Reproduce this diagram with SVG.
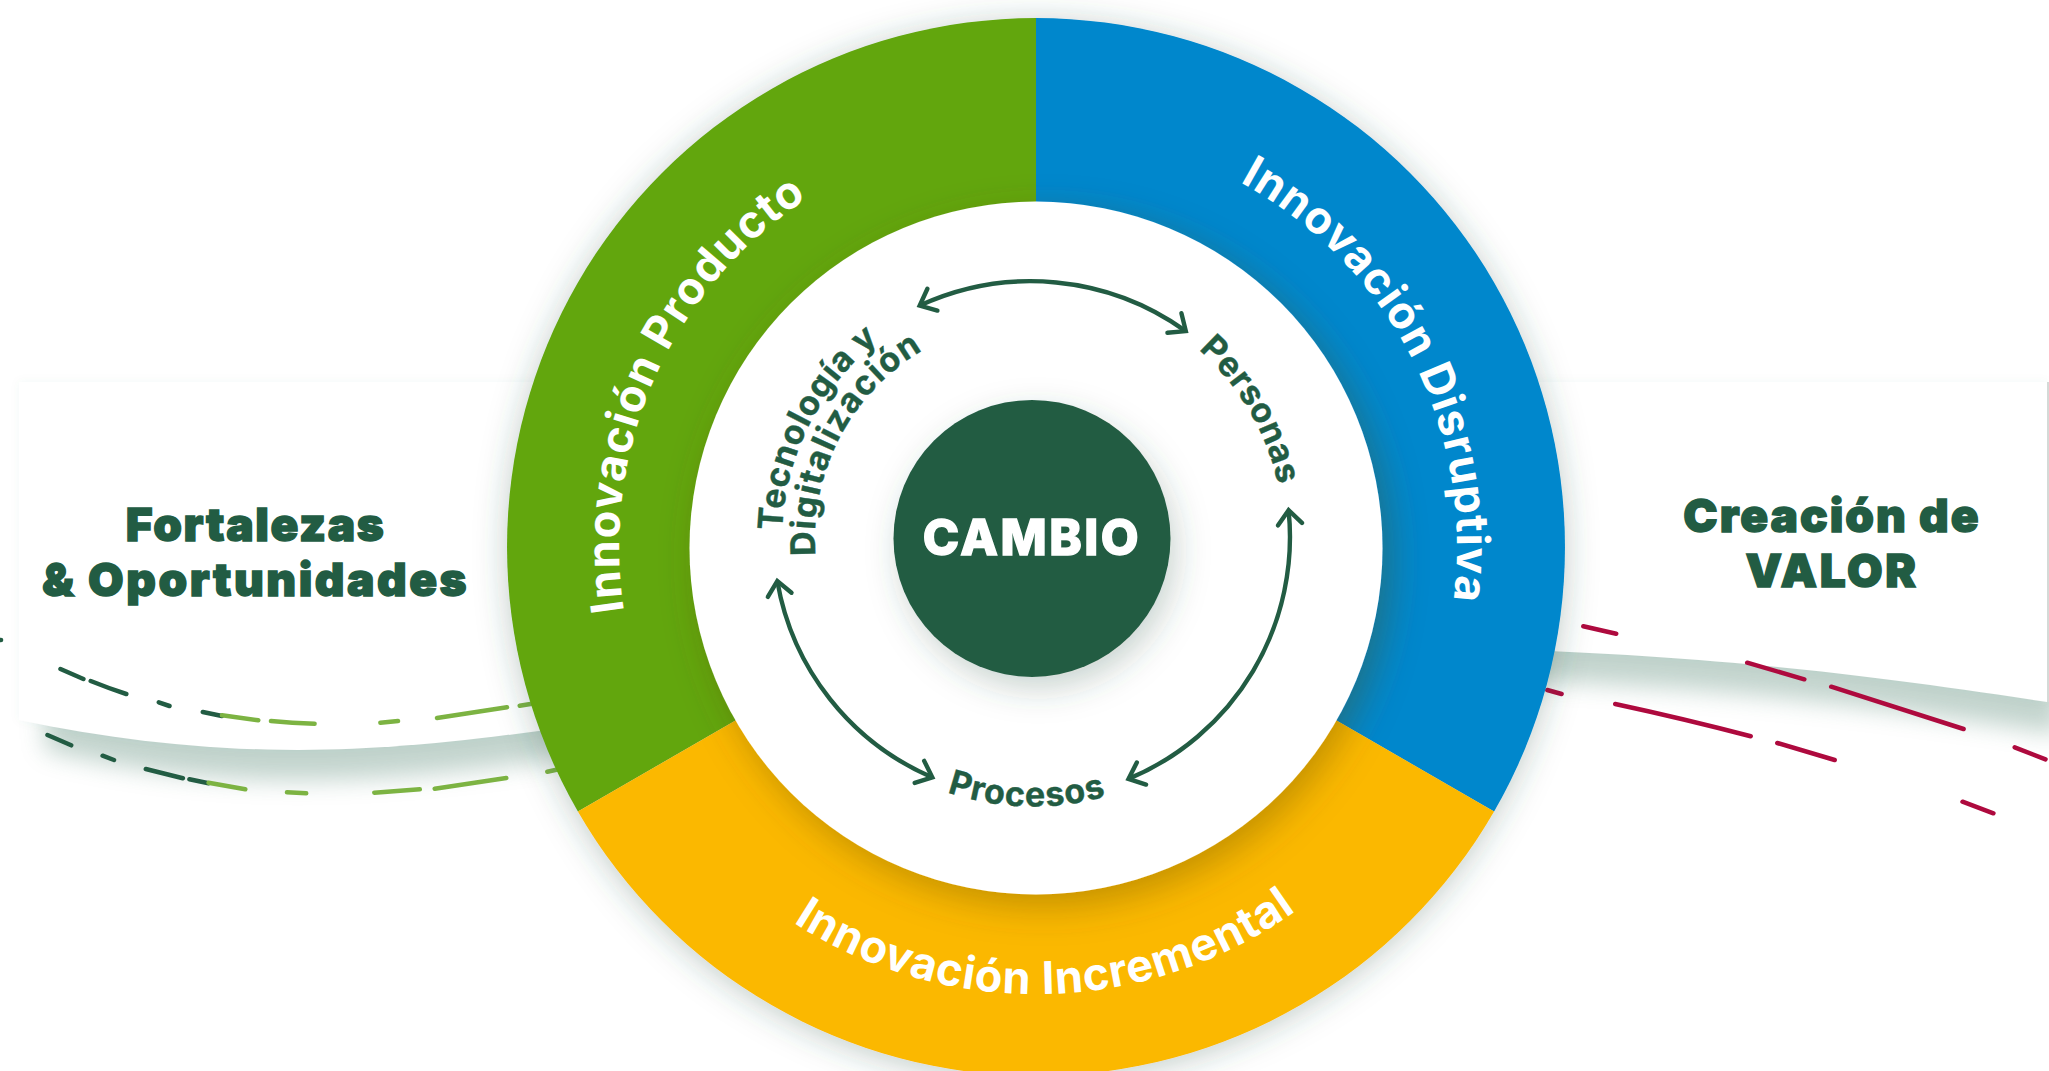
<svg xmlns="http://www.w3.org/2000/svg" width="2049" height="1071" viewBox="0 0 2049 1071">
<style>
text{font-family:"Inter","Liberation Sans",sans-serif;}
.head{font-size:46px;font-weight:900;fill:#225c43;stroke:#225c43;stroke-width:1.4px;text-anchor:middle}
.ring{font-size:45px;font-weight:700;fill:#fff;text-anchor:middle;letter-spacing:1.3px}
.inner{font-size:34px;font-weight:700;fill:#225c43;stroke:#225c43;stroke-width:.4px;text-anchor:middle}
.core{font-size:49px;font-weight:800;fill:#fff;stroke:#fff;stroke-width:1.4px;text-anchor:middle;letter-spacing:2.5px}
.dd{fill:none;stroke:#225c43;stroke-width:4.5;stroke-linecap:round}
.dg{fill:none;stroke:#7cb342;stroke-width:4.5;stroke-linecap:round}
.dr{fill:none;stroke:#ae0a3e;stroke-width:4.5;stroke-linecap:round}
.arc{fill:none;stroke:#225c43;stroke-width:4.4;marker-start:url(#v);marker-end:url(#v)}
.pshadow{fill:#5f8d7b;opacity:.38;filter:url(#blur)}
</style>
<defs>
<marker id="v" markerUnits="userSpaceOnUse" markerWidth="44" markerHeight="44" viewBox="-22 -22 44 44" refX="0" refY="0" orient="auto-start-reverse">
<path d="M-14,-12 L0,0 L-14,12" fill="none" stroke="#225c43" stroke-width="4.4" stroke-linecap="round"/>
</marker>
<filter id="blur" x="-10%" y="-40%" width="120%" height="180%"><feGaussianBlur stdDeviation="12"/></filter>
<filter id="halo" x="-5%" y="-5%" width="110%" height="110%"><feDropShadow dx="0" dy="0" stdDeviation="5" flood-color="#4a7a66" flood-opacity=".05"/></filter>
<filter id="ringS" x="-10%" y="-10%" width="120%" height="120%"><feDropShadow dx="0" dy="4" stdDeviation="16" flood-color="#33554a" flood-opacity=".3"/></filter>
<filter id="innerS" x="-15%" y="-15%" width="130%" height="130%"><feDropShadow dx="8" dy="12" stdDeviation="18" flood-color="#5a4a10" flood-opacity=".35"/></filter>
<filter id="coreS" x="-30%" y="-30%" width="160%" height="160%"><feDropShadow dx="6" dy="12" stdDeviation="16" flood-color="#33554a" flood-opacity=".25"/></filter>
<path id="tProd" d="M698.7,792 A417,417 0 0 1 992.4,132.3"/>
<path id="tDis" d="M1063.7,132.6 A415,415 0 0 1 1390.1,773"/>
<path id="tInc" d="M654.4,779.9 A447,447 0 0 0 1428.5,761"/>
<path id="tPer" d="M1030.8,287.5 A251,251 0 0 1 1251.5,662.1"/>
<path id="tPro" d="M797.8,667 A268,268 0 0 0 1261.9,677.9"/>
<path id="tTec" d="M822.5,675.2 A251,251 0 0 1 1019.9,287.9"/>
<path id="tDig" d="M848.7,655 A218,218 0 0 1 1024.3,320.7"/>
</defs>

<g id="panel-left">
<path class="pshadow" d="M45,690 H560 V758 C460,772 380,780 298,780 C200,780 120,768 45,750 Z"/>
<path d="M19,382 H560 V728 C460,742 380,750 298,750 C200,750 110,739 19,720 Z" fill="#fff" filter="url(#halo)"/>
<text class="head" x="255.5" y="541" style="letter-spacing:1.6px">Fortalezas</text>
<text class="head" x="255.5" y="595.7" style="letter-spacing:2.5px">&amp; Oportunidades</text>
</g>
<g id="panel-right">
<path class="pshadow" d="M1500,600 H2060 V734 C1900,710 1750,688 1500,679 Z"/>
<path d="M1500,382 H2047 V702 C1900,680 1750,658 1500,649 Z" fill="#fff" filter="url(#halo)"/>
<rect x="2047" y="382" width="2" height="320" fill="#d4dad7"/>
<text class="head" x="1832" y="531.7" style="letter-spacing:2px">Creación de</text>
<text class="head" x="1832" y="586.7" style="letter-spacing:2.6px">VALOR</text>
</g>

<g id="dashes">
<circle cx="1" cy="640" r="2.3" fill="#225c43"/>
<path class="dd" d="M60.5,669 L83.4,679 M90.7,681 Q108,688 126.3,694 M158.8,702.3 L169.5,706 M202.8,712 L222,716 M47.5,735 L71.2,745.3 M102.6,755.7 L114,760 M145.8,769 L182.9,778.3 M189.4,779.3 L208.6,783.3"/>
<path class="dg" d="M222,715.3 L258.3,720.3 M271,721 Q292,723 314.6,723.7 M380.4,722.7 L398,721 M437,718 L507,707.3 M519.7,705.7 L532,703.7 M208.6,782.7 L245.3,789.3 M287,792.3 L306.2,793.3 M374.3,792.7 L419.8,789.3 M434.7,788.7 L506.3,778 M547.3,771.7 L558.7,769.3"/>
<path class="dr" d="M1583.3,626.3 L1616.2,633.7 M1747.2,662.7 L1804.3,679.3 M1831.2,686.7 L1963.6,729 M2014.7,747.3 L2045.5,759.3 M1547.3,690 L1561.6,694 M1615.2,704 Q1685,719 1750.7,736.3 M1777.3,743 L1834.7,760 M1962.5,801.7 L1993.4,813.3"/>
</g>

<g id="ring" filter="url(#ringS)">
<path id="seg-producto" fill="#62a60e" d="M1036,18 A529,529 0 0 0 577.9,811.5 L1036,547 Z"/>
<path id="seg-disruptiva" fill="#0087cc" d="M1036,18 A529,529 0 0 1 1494.1,811.5 L1036,547 Z"/>
<path id="seg-incremental" fill="#fbb800" d="M577.9,811.5 A529,529 0 0 0 1494.1,811.5 L1036,547 Z"/>
</g>
<g id="hub"><circle cx="1036" cy="548" r="346.5" fill="#fff" filter="url(#innerS)"/></g>

<g id="label-producto"><text class="ring"><textPath href="#tProd" startOffset="50%">Innovación Producto</textPath></text></g>
<g id="label-disruptiva"><text class="ring" style="letter-spacing:1px"><textPath href="#tDis" startOffset="50%">Innovación Disruptiva</textPath></text></g>
<g id="label-incremental"><text class="ring" style="letter-spacing:.9px"><textPath href="#tInc" startOffset="50%">Innovación Incremental</textPath></text></g>

<g id="connectors">
<path class="arc" d="M919.7,305.5 A266,266 0 0 1 1185.8,331.1"/>
<path class="arc" d="M1288.6,510.2 A262,262 0 0 1 1128.5,778.9"/>
<path class="arc" d="M777.3,581 A262,262 0 0 0 932.3,777.4"/>
</g>

<g id="node-tecnologia">
<text class="inner" style="letter-spacing:.8px"><textPath href="#tTec" startOffset="50%">Tecnología y</textPath></text>
<text class="inner" style="letter-spacing:1.4px"><textPath href="#tDig" startOffset="50%">Digitalización</textPath></text>
</g>
<g id="node-personas"><text class="inner" style="letter-spacing:.5px"><textPath href="#tPer" startOffset="50%">Personas</textPath></text></g>
<g id="node-procesos"><text class="inner" style="letter-spacing:.9px"><textPath href="#tPro" startOffset="50%">Procesos</textPath></text></g>

<g id="node-cambio">
<circle cx="1032" cy="538.4" r="138.5" fill="#225c43" filter="url(#coreS)"/>
<text class="core" x="1032" y="555.4">CAMBIO</text>
</g>
</svg>
